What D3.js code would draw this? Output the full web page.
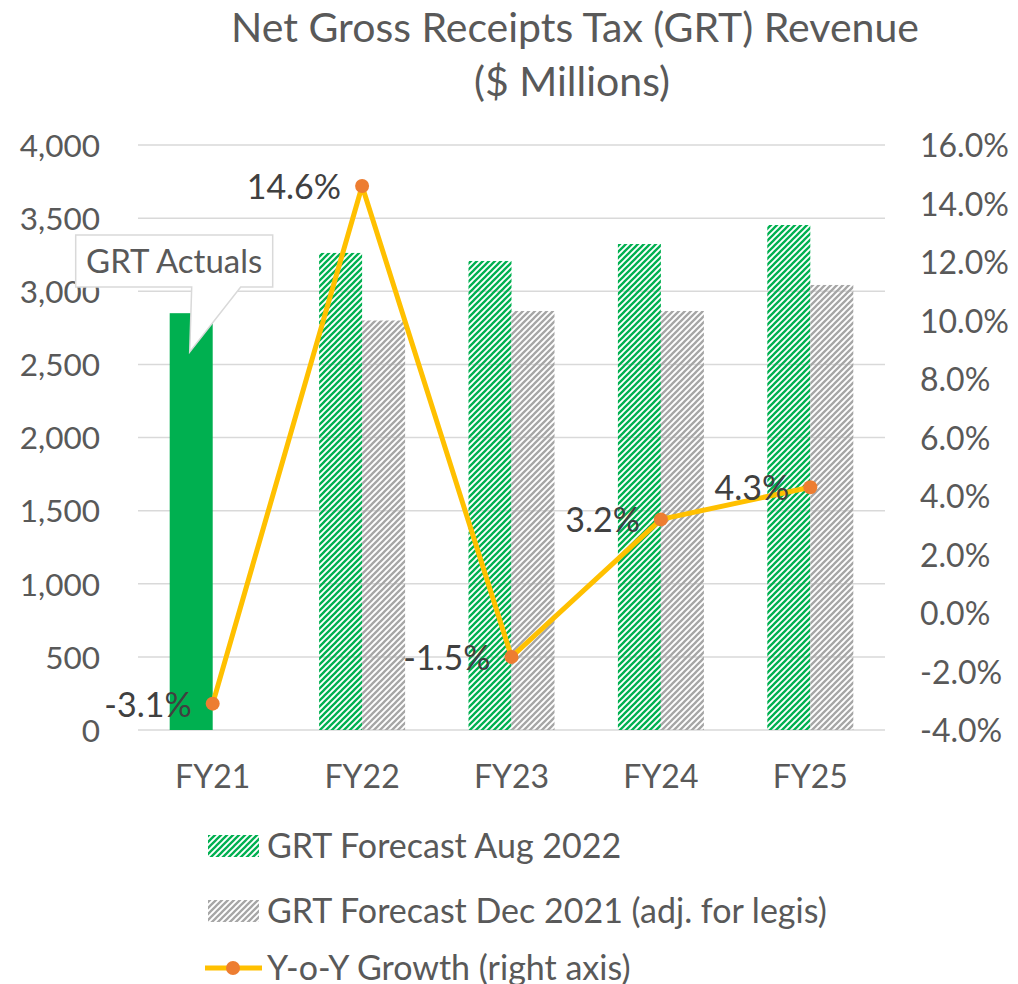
<!DOCTYPE html>
<html>
<head>
<meta charset="utf-8">
<script src="https://cdn.jsdelivr.net/npm/d3@7"></script>
<style>
  body { margin: 0; background: #fff; }
  text { font-family: Lato, "Noto Sans", sans-serif; }
</style>
</head>
<body>
<div id="chart"></div>
<script>
// Data
const categories = ['FY21', 'FY22', 'FY23', 'FY24', 'FY25'];
const actuals = [2850, null, null, null, null];
const forecastAug2022 = [null, 3262, 3207, 3323, 3453];
const forecastDec2021 = [null, 2800, 2865, 2865, 3043];
const growth = [-3.1, 14.6, -1.5, 3.2, 4.3];
const leftTicks = [0, 500, 1000, 1500, 2000, 2500, 3000, 3500, 4000];
const rightTicks = [-4, -2, 0, 2, 4, 6, 8, 10, 12, 14, 16];

const width = 1018, height = 984;
const plot = { left: 138, right: 885, top: 145, bottom: 730 };

const svg = d3.select("#chart")
    .append("svg")
    .attr("width", width)
    .attr("height", height);

// hatch patterns (wide upward diagonal)
const defs = svg.append("defs");
function hatch(id, color) {
    const p = defs.append("pattern")
        .attr("id", id)
        .attr("patternUnits", "userSpaceOnUse")
        .attr("width", 6)
        .attr("height", 6);
    p.append("path")
        .attr("d", "M-1,1 l2,-2 M0,6 l6,-6 M5,7 l2,-2")
        .attr("stroke", color)
        .attr("stroke-width", 2.3);
}
hatch("hatchGreen", "#00B050");
hatch("hatchGray", "#A6A6A6");

// scales
const x = d3.scaleBand()
    .domain(categories)
    .range([plot.left, plot.right])
    .paddingInner(0)
    .paddingOuter(0);

const xSub = d3.scaleBand()
    .domain(['aug', 'dec'])
    .range([0, x.bandwidth()])
    .paddingInner(0)
    .paddingOuter(0.737);

const yLeft = d3.scaleLinear()
    .domain([0, 4000])
    .range([plot.bottom, plot.top]);

const yRight = d3.scaleLinear()
    .domain([-4, 16])
    .range([plot.bottom, plot.top]);

// gridlines
svg.append("g")
    .selectAll("line")
    .data(leftTicks)
    .enter()
    .append("line")
    .attr("x1", plot.left)
    .attr("x2", plot.right)
    .attr("y1", d => yLeft(d))
    .attr("y2", d => yLeft(d))
    .attr("stroke", "#D9D9D9")
    .attr("stroke-width", 1.5);

// axes
const axisLeft = svg.append("g")
    .attr("transform", "translate(" + (plot.left - 38) + ",0)")
    .call(d3.axisLeft(yLeft).tickValues(leftTicks).tickFormat(d3.format(",")).tickSize(0).tickPadding(0));

const axisRight = svg.append("g")
    .attr("transform", "translate(" + (plot.right + 35) + ",0)")
    .call(d3.axisRight(yRight).tickValues(rightTicks).tickFormat(d => d.toFixed(1) + "%").tickSize(0).tickPadding(0));

const axisBottom = svg.append("g")
    .attr("transform", "translate(0," + plot.bottom + ")")
    .call(d3.axisBottom(x).tickSize(0).tickPadding(35));

[axisLeft, axisRight, axisBottom].forEach(a => {
    a.select(".domain").remove();
    a.selectAll("text")
        .attr("fill", "#595959")
        .style("font-size", "32px")
        .style("font-family", "Lato, sans-serif");
});
axisLeft.selectAll("text").style("font-size", "31.5px");
axisBottom.selectAll("text").attr("dy", "0.71em");
axisLeft.selectAll("text").attr("dy", "0.36em");
axisRight.selectAll("text").attr("dy", "0.36em");

// bars
const bars = svg.append("g");

bars.selectAll("rect.actual")
    .data(categories.map((c, i) => ({ c: c, v: actuals[i] })).filter(d => d.v != null))
    .enter()
    .append("rect")
    .attr("class", "actual")
    .attr("x", d => x(d.c) + xSub('aug'))
    .attr("y", d => yLeft(d.v))
    .attr("width", xSub.bandwidth())
    .attr("height", d => yLeft(0) - yLeft(d.v))
    .attr("fill", "#00B050");

bars.selectAll("rect.aug")
    .data(categories.map((c, i) => ({ c: c, v: forecastAug2022[i] })).filter(d => d.v != null))
    .enter()
    .append("rect")
    .attr("class", "aug")
    .attr("x", d => x(d.c) + xSub('aug'))
    .attr("y", d => yLeft(d.v))
    .attr("width", xSub.bandwidth())
    .attr("height", d => yLeft(0) - yLeft(d.v))
    .attr("fill", "url(#hatchGreen)");

bars.selectAll("rect.dec")
    .data(categories.map((c, i) => ({ c: c, v: forecastDec2021[i] })).filter(d => d.v != null))
    .enter()
    .append("rect")
    .attr("class", "dec")
    .attr("x", d => x(d.c) + xSub('dec'))
    .attr("y", d => yLeft(d.v))
    .attr("width", xSub.bandwidth())
    .attr("height", d => yLeft(0) - yLeft(d.v))
    .attr("fill", "url(#hatchGray)");

// callout "GRT Actuals"
const cx0 = x('FY21') + x.bandwidth() / 2;
const boxTop = yLeft(3385), boxBottom = yLeft(3029);
const boxL = cx0 - 137, boxR = cx0 + 60;
const tipX = cx0 - 23, tipY = yLeft(2585);
const callout = svg.append("g");
callout.append("path")
    .attr("d", `M${boxL},${boxTop} L${boxR},${boxTop} L${boxR},${boxBottom} L${cx0 + 28},${boxBottom} L${tipX},${tipY} L${cx0 - 21},${boxBottom} L${boxL},${boxBottom} Z`)
    .attr("fill", "#fff")
    .attr("stroke", "#D9D9D9")
    .attr("stroke-width", 1.5);
callout.append("text")
    .attr("x", (boxL + boxR) / 2)
    .attr("y", (boxTop + boxBottom) / 2)
    .attr("dy", "0.36em")
    .attr("text-anchor", "middle")
    .attr("fill", "#595959")
    .style("font-size", "33px")
    .text("GRT Actuals");

// growth line
const lineData = categories.map((c, i) => ({ c: c, v: growth[i] }));
const lineGen = d3.line()
    .x(d => x(d.c) + x.bandwidth() / 2)
    .y(d => yRight(d.v));

svg.append("path")
    .datum(lineData)
    .attr("fill", "none")
    .attr("stroke", "#FFC000")
    .attr("stroke-width", 5)
    .attr("stroke-linejoin", "round")
    .attr("d", lineGen);

svg.selectAll("circle.pt")
    .data(lineData)
    .enter()
    .append("circle")
    .attr("class", "pt")
    .attr("cx", d => x(d.c) + x.bandwidth() / 2)
    .attr("cy", d => yRight(d.v))
    .attr("r", 7)
    .attr("fill", "#ED7D31");

svg.selectAll("text.lbl")
    .data(lineData)
    .enter()
    .append("text")
    .attr("class", "lbl")
    .attr("x", d => x(d.c) + x.bandwidth() / 2 - 21)
    .attr("y", d => yRight(d.v))
    .attr("dy", "0.38em")
    .attr("text-anchor", "end")
    .attr("fill", "#404040")
    .style("font-size", "34px")
    .text(d => d.v.toFixed(1) + "%");

// title
svg.append("text")
    .attr("x", 575)
    .attr("y", 42)
    .attr("text-anchor", "middle")
    .attr("fill", "#595959")
    .style("font-size", "41px")
    .text("Net Gross Receipts Tax (GRT) Revenue");
svg.append("text")
    .attr("x", 572)
    .attr("y", 96)
    .attr("text-anchor", "middle")
    .attr("fill", "#595959")
    .style("font-size", "41px")
    .text("($ Millions)");

// legend
const legend = svg.append("g");
const legendItems = [
    { label: "GRT Forecast Aug 2022", type: "bar", fill: "url(#hatchGreen)", y: 846 },
    { label: "GRT Forecast Dec 2021 (adj. for legis)", type: "bar", fill: "url(#hatchGray)", y: 911 },
    { label: "Y-o-Y Growth (right axis)", type: "line", y: 968 }
];
legendItems.forEach(item => {
    if (item.type === "bar") {
        legend.append("rect")
            .attr("x", 208)
            .attr("y", item.y - 11)
            .attr("width", 51)
            .attr("height", 22)
            .attr("fill", item.fill);
    } else {
        legend.append("line")
            .attr("x1", 205).attr("x2", 262)
            .attr("y1", item.y).attr("y2", item.y)
            .attr("stroke", "#FFC000")
            .attr("stroke-width", 5);
        legend.append("circle")
            .attr("cx", 233).attr("cy", item.y)
            .attr("r", 7)
            .attr("fill", "#ED7D31");
    }
    legend.append("text")
        .attr("x", 267)
        .attr("y", item.y)
        .attr("dy", "0.36em")
        .attr("fill", "#595959")
        .style("font-size", "34px")
        .text(item.label);
});
</script>
</body>
</html>
